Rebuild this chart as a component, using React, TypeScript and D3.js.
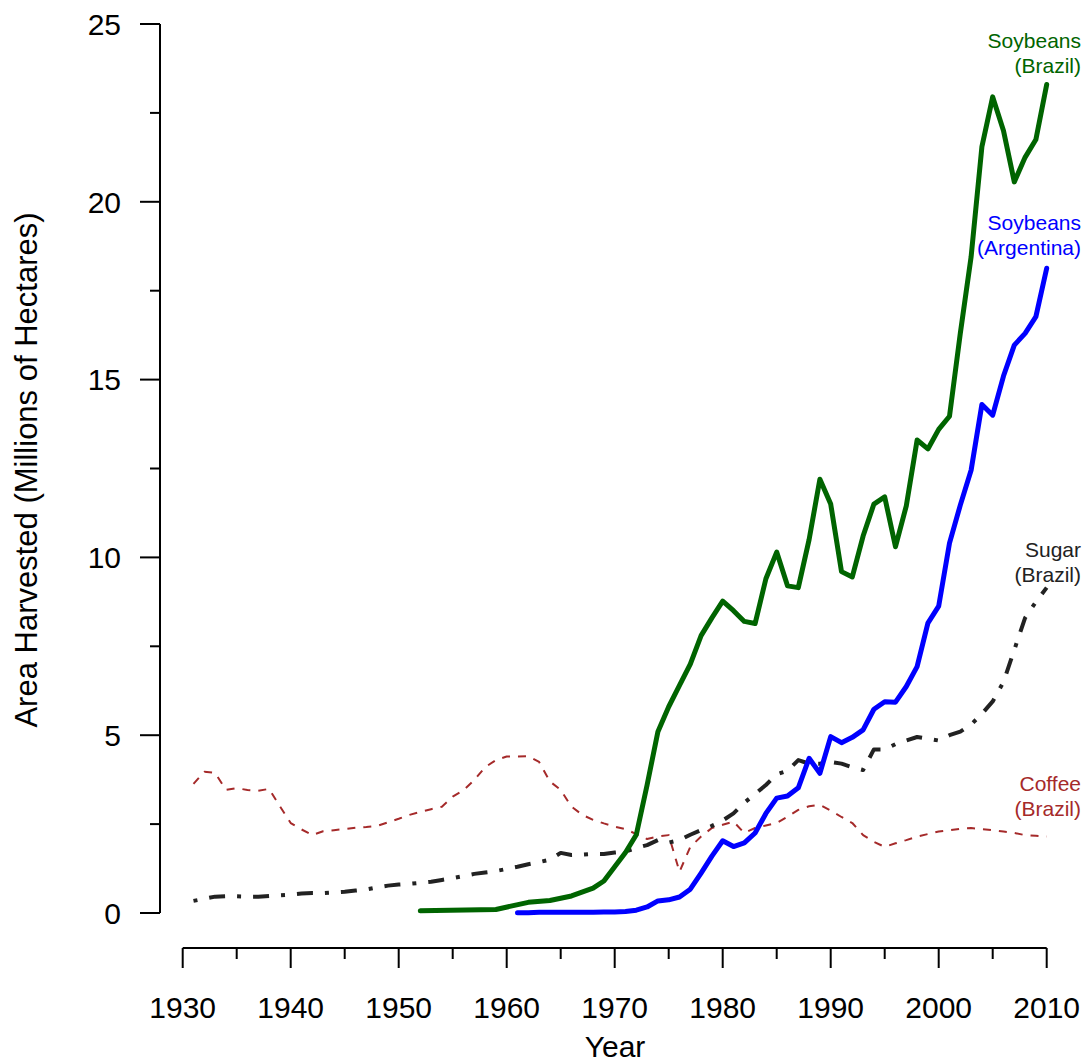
import React from "react";
import * as d3 from "d3";

// ---- Data (millions of hectares) ----
const soyBrazilYears = [1952, 1959, 1962, 1964, 1966, 1968, 1969, 1970, 1971, 1972, 1973, 1974, 1975, 1976, 1977, 1978, 1979, 1980, 1981, 1982, 1983, 1984, 1985, 1986, 1987, 1988, 1989, 1990, 1991, 1992, 1993, 1994, 1995, 1996, 1997, 1998, 1999, 2000, 2001, 2002, 2003, 2004, 2005, 2006, 2007, 2008, 2009, 2010];
const soyBrazilValues = [0.06, 0.1, 0.3, 0.35, 0.48, 0.7, 0.9, 1.3, 1.7, 2.2, 3.6, 5.1, 5.8, 6.4, 7.0, 7.8, 8.3, 8.77, 8.5, 8.2, 8.14, 9.4, 10.15, 9.2, 9.15, 10.5, 12.2, 11.5, 9.6, 9.45, 10.6, 11.5, 11.7, 10.3, 11.45, 13.3, 13.05, 13.6, 13.97, 16.3, 18.45, 21.55, 22.95, 22.0, 20.56, 21.25, 21.75, 23.3];

const soyArgYears = [1961, 1962, 1963, 1964, 1965, 1966, 1967, 1968, 1969, 1970, 1971, 1972, 1973, 1974, 1975, 1976, 1977, 1978, 1979, 1980, 1981, 1982, 1983, 1984, 1985, 1986, 1987, 1988, 1989, 1990, 1991, 1992, 1993, 1994, 1995, 1996, 1997, 1998, 1999, 2000, 2001, 2002, 2003, 2004, 2005, 2006, 2007, 2008, 2009, 2010];
const soyArgValues = [0.01, 0.01, 0.02, 0.02, 0.02, 0.02, 0.02, 0.02, 0.03, 0.03, 0.04, 0.08, 0.17, 0.34, 0.37, 0.45, 0.67, 1.12, 1.6, 2.03, 1.87, 1.97, 2.25, 2.8, 3.23, 3.29, 3.52, 4.35, 3.93, 4.96, 4.79, 4.94, 5.15, 5.73, 5.94, 5.93, 6.37, 6.93, 8.15, 8.63, 10.4, 11.47, 12.45, 14.3, 14.0, 15.1, 15.97, 16.3, 16.77, 18.13];

const sugarYears = d3.range(1931, 2011);
const sugarValues = [0.34, 0.4, 0.46, 0.47, 0.47, 0.46, 0.46, 0.48, 0.5, 0.52, 0.55, 0.56, 0.56, 0.58, 0.6, 0.63, 0.66, 0.72, 0.77, 0.8, 0.82, 0.85, 0.88, 0.93, 0.98, 1.04, 1.1, 1.14, 1.18, 1.24, 1.3, 1.37, 1.43, 1.5, 1.69, 1.63, 1.64, 1.66, 1.66, 1.7, 1.73, 1.83, 1.91, 2.05, 1.98, 2.05, 2.2, 2.33, 2.45, 2.6, 2.8, 3.1, 3.35, 3.6, 3.9, 4.0, 4.3, 4.2, 4.2, 4.25, 4.2, 4.1, 4.02, 4.6, 4.6, 4.75, 4.85, 4.95, 4.9, 4.85, 5.0, 5.1, 5.3, 5.6, 5.95, 6.5, 7.4, 8.3, 8.75, 9.15];

const coffeeYears = d3.range(1931, 2011);
const coffeeValues = [3.63, 3.97, 3.94, 3.46, 3.51, 3.46, 3.44, 3.49, 3.0, 2.53, 2.35, 2.19, 2.3, 2.33, 2.36, 2.4, 2.42, 2.45, 2.55, 2.65, 2.76, 2.84, 2.92, 2.99, 3.27, 3.45, 3.74, 4.1, 4.3, 4.4, 4.4, 4.41, 4.25, 3.7, 3.46, 2.99, 2.76, 2.62, 2.52, 2.43, 2.36, 2.22, 2.08, 2.15, 2.19, 1.16, 1.86, 2.15, 2.39, 2.48, 2.57, 2.25, 2.39, 2.46, 2.53, 2.71, 2.9, 3.0, 3.04, 2.88, 2.7, 2.53, 2.19, 2.0, 1.86, 1.96, 2.05, 2.15, 2.22, 2.29, 2.33, 2.37, 2.39, 2.36, 2.33, 2.29, 2.25, 2.19, 2.17, 2.15];

const xMajorTicks = [1930, 1940, 1950, 1960, 1970, 1980, 1990, 2000, 2010];
const xMinorTicks = [1935, 1945, 1955, 1965, 1975, 1985, 1995, 2005];
const yMajorTicks = [0, 5, 10, 15, 20, 25];
const yMinorTicks = [2.5, 7.5, 12.5, 17.5, 22.5];

const seriesNames = ["Soybeans (Brazil)", "Soybeans (Argentina)", "Sugar (Brazil)", "Coffee (Brazil)"];

const FONT = "'Liberation Sans', Arial, Helvetica, sans-serif";

export default function App() {
  const W = 1090;
  const H = 1064;
  const x = d3.scaleLinear().domain([1930, 2010]).range([182.7, 1046.7]);
  const y = d3.scaleLinear().domain([0, 25]).range([913, 24]);

  const line = d3
    .line<[number, number]>()
    .x((d) => x(d[0]))
    .y((d) => y(d[1]));

  const zip = (a: number[], b: number[]) => a.map((v, i) => [v, b[i]] as [number, number]);

  const series = [
    { name: seriesNames[3], pts: zip(coffeeYears, coffeeValues), color: "#A52A2A", width: 2, dash: "8 8", cap: "butt" },
    { name: seriesNames[2], pts: zip(sugarYears, sugarValues), color: "#222222", width: 4, dash: "4 12 16 12", cap: "butt" },
    { name: seriesNames[1], pts: zip(soyArgYears, soyArgValues), color: "#0000FF", width: 5, dash: undefined, cap: "round" },
    { name: seriesNames[0], pts: zip(soyBrazilYears, soyBrazilValues), color: "#006400", width: 5, dash: undefined, cap: "round" },
  ];

  const labels = [
    { lines: ["Soybeans", "(Brazil)"], y0: 48, color: "#006400" },
    { lines: ["Soybeans", "(Argentina)"], y0: 230, color: "#0000FF" },
    { lines: ["Sugar", "(Brazil)"], y0: 557, color: "#222222" },
    { lines: ["Coffee", "(Brazil)"], y0: 791, color: "#A52A2A" },
  ];

  const xAxisY = 948;
  const yAxisX = 160;

  return (
    <svg width={W} height={H} style={{ display: "block", position: "absolute", left: 0, top: 0 }} fontFamily={FONT}>
      <rect width={W} height={H} fill="#fff" />
      {/* Y axis */}
      <line x1={yAxisX} x2={yAxisX} y1={y(0)} y2={y(25)} stroke="#000" strokeWidth={2} />
      {yMajorTicks.map((t) => (
        <g key={"ym" + t}>
          <line x1={yAxisX - 20} x2={yAxisX} y1={y(t)} y2={y(t)} stroke="#000" strokeWidth={2} />
          <text x={121} y={y(t)} dy="0.36em" textAnchor="end" fontSize={30} fill="#000">
            {t}
          </text>
        </g>
      ))}
      {yMinorTicks.map((t) => (
        <line key={"yn" + t} x1={yAxisX - 10} x2={yAxisX} y1={y(t)} y2={y(t)} stroke="#000" strokeWidth={2} />
      ))}
      {/* X axis */}
      <line x1={x(1930)} x2={x(2010)} y1={xAxisY} y2={xAxisY} stroke="#000" strokeWidth={2} />
      {xMajorTicks.map((t) => (
        <g key={"xm" + t}>
          <line x1={x(t)} x2={x(t)} y1={xAxisY} y2={xAxisY + 20} stroke="#000" strokeWidth={2} />
          <text x={x(t)} y={1018} textAnchor="middle" fontSize={30} fill="#000">
            {t}
          </text>
        </g>
      ))}
      {xMinorTicks.map((t) => (
        <line key={"xn" + t} x1={x(t)} x2={x(t)} y1={xAxisY} y2={xAxisY + 11} stroke="#000" strokeWidth={2} />
      ))}
      {/* Axis titles */}
      <text x={615} y={1057} textAnchor="middle" fontSize={30} fill="#000">
        Year
      </text>
      <text transform="translate(37,470) rotate(-90)" textAnchor="middle" fontSize={31} fill="#000">
        Area Harvested (Millions of Hectares)
      </text>
      {/* Series */}
      {series.map((s) => (
        <path
          key={s.name}
          d={line(s.pts) || ""}
          fill="none"
          stroke={s.color}
          strokeWidth={s.width}
          strokeDasharray={s.dash}
          strokeLinecap={s.cap as any}
          strokeLinejoin="round"
        />
      ))}
      {/* Labels */}
      {labels.map((l) => (
        <text key={l.lines.join(" ")} textAnchor="end" fontSize={21} fill={l.color}>
          {l.lines.map((t, i) => (
            <tspan key={i} x={1081} y={l.y0 + i * 25}>
              {t}
            </tspan>
          ))}
        </text>
      ))}
    </svg>
  );
}
